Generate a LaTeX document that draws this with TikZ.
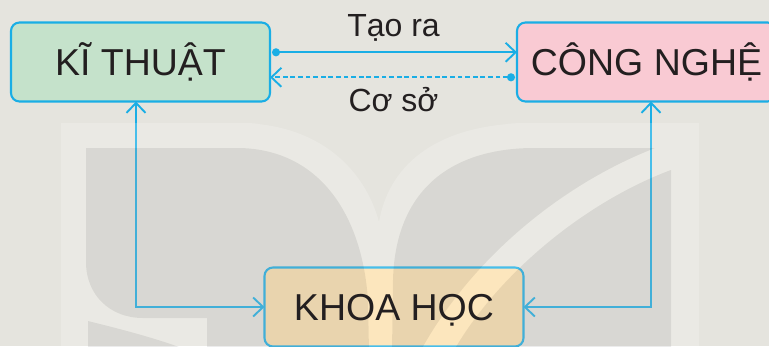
\documentclass[tikz,border=0pt]{standalone}
\usepackage{fontspec}
\setmainfont{Liberation Sans}
\usetikzlibrary{arrows.meta}
\definecolor{bgc}{HTML}{E5E4DE}
\definecolor{lnc}{HTML}{1AAEE5}
\definecolor{grn}{HTML}{C5E2CB}
\definecolor{pnk}{HTML}{F9CAD3}
\definecolor{tanc}{HTML}{FCE0AD}
\definecolor{txt}{HTML}{231F20}
\pgfdeclarelayer{bglayer}
\pgfdeclarelayer{wmlayer}
\pgfsetlayers{bglayer,wmlayer,main}
\tikzset{
  boxtext/.style={minimum width=259pt, minimum height=79pt, inner sep=0pt, outer sep=0pt,
    text height=27pt, text depth=0pt, text=txt, font=\fontsize{37.5}{40}\selectfont},
  boxframe/.style={draw=lnc, line width=2.1pt, rounded corners=8.5pt},
  conn/.style={draw=lnc, line width=1.9pt},
  barb/.tip={Straight Barb[length=10pt,width=19pt]},
  dot/.tip={Circle[length=8pt,width=8pt]},
  dashpat/.style={dash pattern=on 4.8pt off 2.8pt},
  lbl/.style={text=txt, font=\fontsize{32}{34}\selectfont, inner sep=0pt, anchor=base}
}
\begin{document}
\begin{tikzpicture}[x=1pt,y=-1pt]
\useasboundingbox (0,0) rectangle (769,346);
\clip (0,0) rectangle (769,346);

% text nodes (main layer)
\node[boxtext] (kt) at (140.5,62) {KĨ THUẬT};
\node[boxtext] (cn) at (646.5,62) {CÔNG NGHỆ};
\node[boxtext] (kh) at (394,307) {KHOA HỌC};
\node[lbl] (tr) at (393.5,36) {Tạo ra};
\node[lbl] (cs) at (393.5,111) {Cơ sở};

\begin{pgfonlayer}{bglayer}
  \fill[bgc] (0,0) rectangle (769,346);
  % connectors
  \draw[conn, dot-barb, shorten <=2pt] ([yshift=9.7pt]kt.east) -- ([yshift=9.7pt]cn.west);
  \draw[conn, dashpat, dot-barb, shorten <=2pt] ([yshift=-15.3pt]cn.west) -- ([yshift=-15.3pt]kt.east);
  \draw[conn, barb-barb] ([xshift=125pt]kt.south west) |- (kh.west);
  \draw[conn, barb-barb] ([xshift=134pt]cn.south west) |- (kh.east);
  % boxes
  \draw[boxframe, fill=grn] (kt.south west) rectangle (kt.north east);
  \draw[boxframe, fill=pnk] (cn.south west) rectangle (cn.north east);
  \draw[boxframe, fill=tanc] (kh.south west) rectangle (kh.north east);
\end{pgfonlayer}

\begin{pgfonlayer}{wmlayer}
  % watermark: light frame
  \fill[white, fill opacity=0.2, even odd rule]
    (61,123) rectangle (699,352)
    (240,123) .. controls (320,124) and (365,170) .. (379,222)
              .. controls (388,170) and (430,124) .. (530,123) -- cycle;
  % watermark: dark shapes
  \fill[black, fill opacity=0.075]
    (86,148) -- (240,148) .. controls (320,150) and (362,215) .. (368,300)
      -- (369,352) -- (207,352) -- (207,318) -- (143,318)
      .. controls (110,318) and (86,295) .. (86,262) -- cycle
    (88,321) .. controls (120,329) and (160,339) .. (192,352) -- (88,352) -- cycle
    (392,352) -- (393,280) .. controls (395,200) and (440,150) .. (530,148)
      -- (655,148) .. controls (560,185) and (470,260) .. (420,352) -- cycle
    (671,170) -- (671,352) -- (453,352)
      .. controls (500,270) and (590,200) .. (671,170) -- cycle;
\end{pgfonlayer}
\end{tikzpicture}
\end{document}
